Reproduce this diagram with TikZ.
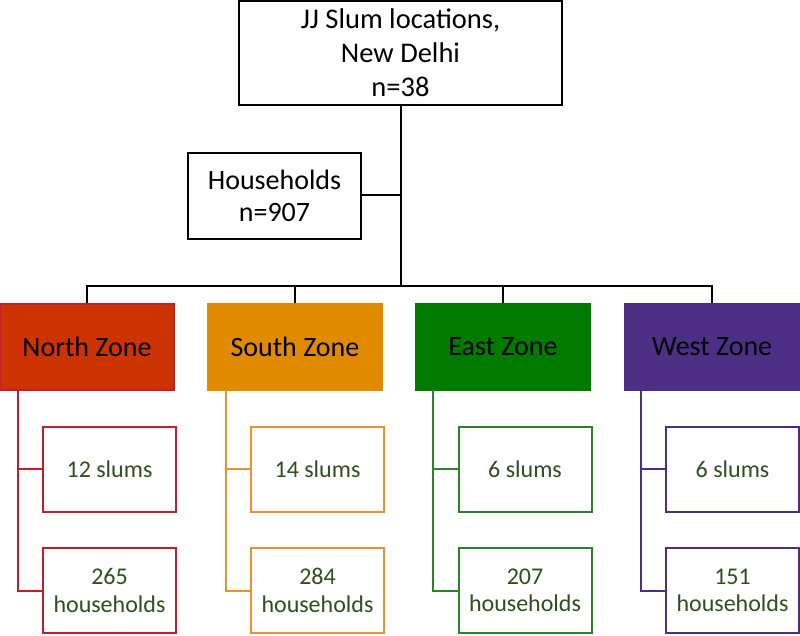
\documentclass[tikz,border=0pt]{standalone}
\usepackage{fontspec}
\setmainfont{Carlito}
\definecolor{nfill}{RGB}{204,51,0}
\definecolor{nline}{RGB}{200,28,40}
\definecolor{sfill}{RGB}{225,138,0}
\definecolor{sline}{RGB}{232,146,50}
\definecolor{efill}{RGB}{0,122,0}
\definecolor{eline}{RGB}{40,132,40}
\definecolor{wfill}{RGB}{76,46,132}
\definecolor{wline}{RGB}{76,46,132}
\definecolor{subtext}{RGB}{48,78,30}
\tikzset{
  blackbox/.style={draw=black, line width=2pt, fill=white, align=center, inner sep=0pt},
  zonebox/.style={line width=2pt, minimum width=174pt, minimum height=86pt, inner sep=0pt, font=\fontsize{28}{34}\selectfont, text=black},
  subbox/.style={line width=2pt, fill=white, minimum width=133pt, minimum height=85pt, inner sep=0pt, align=center, text=subtext, font=\fontsize{24}{27.5}\selectfont},
  bline/.style={draw=black, line width=2pt},
  cline/.style={line width=2pt}
}
\begin{document}
\begin{tikzpicture}[x=1pt,y=-1pt]
\useasboundingbox (0,0) rectangle (800,635);
% top
\node[blackbox, minimum width=323pt, minimum height=104pt, font=\fontsize{28.5}{34}\selectfont] (top) at (400.5,53) {JJ Slum locations,\\New Delhi\\n=38};
\node[blackbox, minimum width=173pt, minimum height=86pt, font=\fontsize{28}{32}\selectfont] (hh) at (274.5,195.5) {Households\\n=907};
% zones
\node[zonebox, fill=nfill, draw=nline] (north) at (87,347) {North Zone};
\node[zonebox, fill=sfill, draw=sfill] (south) at (295,347) {South Zone};
\node[zonebox, fill=efill, draw=efill] (east) at (503,347) {East Zone};
\node[zonebox, fill=wfill, draw=wfill] (west) at (712,347) {West Zone};
% tree
\coordinate (jn) at (400.5,286);
\coordinate (jh) at (400.5,194.5);
\draw[bline] (top.south) -- (jn);
\draw[bline] (hh.east |- jh) -- (jh);
\draw[bline] (north.north) -- (north.north |- jn) -- (west.north |- jn) -- (west.north);
\draw[bline] (south.north) -- (south.north |- jn);
\draw[bline] (east.north) -- (east.north |- jn);
% sub boxes
\node[subbox, draw=nline] (n1) at (109.5,469) {12 slums};
\node[subbox, draw=nline] (n2) at (109.5,590.5) {265\\households};
\node[subbox, draw=sline] (s1) at (317.5,469) {14 slums};
\node[subbox, draw=sline] (s2) at (317.5,590.5) {284\\households};
\node[subbox, draw=eline] (e1) at (525,469) {6 slums};
\node[subbox, draw=eline] (e2) at (525,590.5) {207\\households};
\node[subbox, draw=wline] (w1) at (732.5,469) {6 slums};
\node[subbox, draw=wline] (w2) at (732.5,590.5) {151\\households};
% colored connectors
\coordinate (nc) at (18,390);
\coordinate (sc) at (226,390);
\coordinate (ec) at (433,390);
\coordinate (wc) at (641,390);
\draw[cline, nline] (nc) -- (nc |- n2.west) -- (n2.west);
\draw[cline, nline] (nc |- n1.west) -- (n1.west);
\draw[cline, sline] (sc) -- (sc |- s2.west) -- (s2.west);
\draw[cline, sline] (sc |- s1.west) -- (s1.west);
\draw[cline, eline] (ec) -- (ec |- e2.west) -- (e2.west);
\draw[cline, eline] (ec |- e1.west) -- (e1.west);
\draw[cline, wline] (wc) -- (wc |- w2.west) -- (w2.west);
\draw[cline, wline] (wc |- w1.west) -- (w1.west);
\end{tikzpicture}
\end{document}
